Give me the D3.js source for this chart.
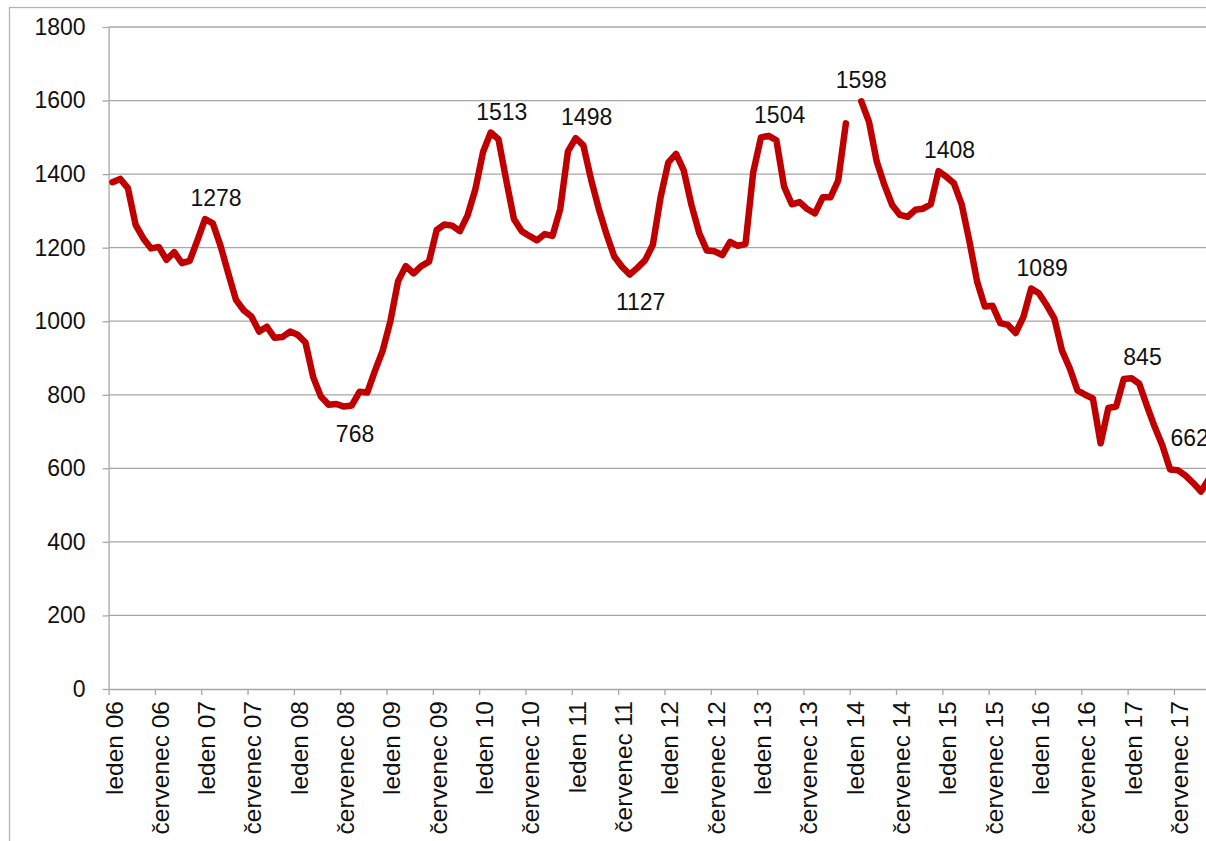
<!DOCTYPE html>
<html>
<head>
<meta charset="utf-8">
<script src="https://cdn.jsdelivr.net/npm/d3@7"></script>
<style>
    body { margin: 0; background: #fff; }
    svg { display: block; font-family: "Liberation Sans", Arial, sans-serif; }
</style>
</head>
<body>
<div id="chart"></div>
<script>
// monthly values, leden 06 .. listopad 17 (leden 14 missing)
var years = ["2006", "2007", "2008", "2009", "2010", "2011", "2012", "2013", "2014", "2015", "2016", "2017"];
var v2006 = [1378, 1387, 1362, 1262, 1225, 1198, 1202, 1167, 1188, 1158, 1164, 1220];
var v2007 = [1278, 1266, 1205, 1130, 1058, 1030, 1013, 972, 985, 955, 957, 972];
var v2008 = [963, 942, 848, 795, 773, 775, 768, 771, 808, 806, 865, 920];
var v2009 = [1000, 1109, 1150, 1130, 1150, 1162, 1248, 1263, 1260, 1245, 1288, 1358];
var v2010 = [1460, 1513, 1495, 1384, 1278, 1245, 1232, 1220, 1237, 1232, 1305, 1462];
var v2011 = [1498, 1478, 1385, 1305, 1236, 1176, 1148, 1127, 1145, 1166, 1208, 1337];
var v2012 = [1432, 1455, 1410, 1316, 1240, 1192, 1190, 1180, 1216, 1205, 1210, 1405];
var v2013 = [1500, 1504, 1492, 1366, 1318, 1324, 1305, 1293, 1337, 1337, 1382, 1538];
var v2014 = [null, 1598, 1542, 1434, 1370, 1316, 1289, 1284, 1303, 1306, 1318, 1408];
var v2015 = [1393, 1375, 1318, 1218, 1108, 1040, 1042, 995, 990, 968, 1012, 1089];
var v2016 = [1076, 1044, 1008, 920, 872, 812, 800, 790, 668, 764, 768, 843];
var v2017 = [845, 830, 770, 713, 662, 597, 595, 580, 560, 537, 570];

var tickLabels = ["leden 06", "červenec 06", "leden 07", "červenec 07", "leden 08", "červenec 08",
    "leden 09", "červenec 09", "leden 10", "červenec 10", "leden 11", "červenec 11",
    "leden 12", "červenec 12", "leden 13", "červenec 13", "leden 14", "červenec 14",
    "leden 15", "červenec 15", "leden 16", "červenec 16", "leden 17", "červenec 17"];
var yTicks = [0, 200, 400, 600, 800, 1000, 1200, 1400, 1600, 1800];

// labelled points: month key, placement
var peakLabels = [
    {m: "2007-01", pos: "above"}, {m: "2008-07", pos: "below"},
    {m: "2010-02", pos: "above"}, {m: "2011-01", pos: "above"},
    {m: "2011-08", pos: "below"}, {m: "2013-02", pos: "above"},
    {m: "2014-02", pos: "top"}, {m: "2014-12", pos: "above"},
    {m: "2015-12", pos: "above"}, {m: "2017-01", pos: "above"},
    {m: "2017-05", pos: "right"}
];

var allValues = [v2006, v2007, v2008, v2009, v2010, v2011, v2012, v2013, v2014, v2015, v2016, v2017];
var data = [];
allValues.forEach(function(arr, yi) {
    arr.forEach(function(v, mi) {
        data.push({m: years[yi] + "-" + (mi < 9 ? "0" : "") + (mi + 1), v: v});
    });
});
var byMonth = {};
data.forEach(function(d) { byMonth[d.m] = d; });

var W = 1206, H = 841,
    plotLeft = 108.6, step = 7.72,
    plotTop = 27, plotBottom = 689;

var x = d3.scaleBand()
    .domain(data.map(function(d) { return d.m; }))
    .range([plotLeft, plotLeft + step * data.length])
    .padding(0);
var xIdx = d3.scaleLinear().domain([0, data.length]).range([plotLeft, plotLeft + step * data.length]);
var y = d3.scaleLinear().domain([0, 1800]).range([plotBottom, plotTop]);

function cx(d) { return x(d.m) + x.bandwidth() / 2; }

var svg = d3.select("#chart").append("svg")
    .attr("width", W)
    .attr("height", H);

// chart area border
svg.append("rect")
    .attr("x", 9.5).attr("y", 7.5)
    .attr("width", W + 20).attr("height", H + 20)
    .attr("fill", "none")
    .attr("stroke", "#b4b4b4")
    .attr("stroke-width", 1.3);

// horizontal gridlines
svg.append("g")
    .selectAll("line")
    .data(yTicks.filter(function(v) { return v > 0; }))
    .enter().append("line")
    .attr("x1", plotLeft).attr("x2", W + 20)
    .attr("y1", function(d) { return y(d); })
    .attr("y2", function(d) { return y(d); })
    .attr("stroke", "#a6a6a6")
    .attr("stroke-width", 1.3);

// y axis
var gy = svg.append("g")
    .attr("transform", "translate(" + plotLeft + ",0)")
    .call(d3.axisLeft(y).tickValues(yTicks).tickFormat(d3.format("d"))
        .tickSize(6).tickSizeOuter(0).tickPadding(17));
gy.selectAll("line, path").attr("stroke", "#a6a6a6").attr("stroke-width", 1.3);
gy.selectAll("text")
    .style("font-size", "23px")
    .style("font-family", "'Liberation Sans', Arial, sans-serif")
    .attr("fill", "#111");

// x axis, ticks between categories
var gx = svg.append("g")
    .attr("transform", "translate(0," + plotBottom + ")")
    .call(d3.axisBottom(xIdx)
        .tickValues(d3.range(0, data.length, 6))
        .tickSize(6).tickSizeOuter(0)
        .tickFormat(function(d, i) { return tickLabels[i]; }));
gx.select(".domain").attr("stroke", "#a6a6a6").attr("stroke-width", 1.3);
gx.selectAll("line").attr("stroke", "#a6a6a6").attr("stroke-width", 1.3);
gx.selectAll("text")
    .attr("x", 0).attr("y", 0)
    .attr("dy", "0.35em")
    .attr("text-anchor", "end")
    .attr("transform", "translate(" + (step / 2 + 1) + ",12) rotate(-90)")
    .style("font-size", "24.5px")
    .style("font-family", "'Liberation Sans', Arial, sans-serif")
    .attr("fill", "#111");

// the series line
var line = d3.line()
    .defined(function(d) { return d.v !== null; })
    .x(cx)
    .y(function(d) { return y(d.v); });

svg.append("path")
    .datum(data)
    .attr("d", line)
    .attr("fill", "none")
    .attr("stroke", "#c00000")
    .attr("stroke-width", 6.5)
    .attr("stroke-linejoin", "round")
    .attr("stroke-linecap", "round");

// data labels
svg.append("g")
    .selectAll("text")
    .data(peakLabels)
    .enter().append("text")
    .text(function(p) { return byMonth[p.m].v; })
    .attr("x", function(p) {
        var d = byMonth[p.m];
        if (p.pos === "right") return cx(d) + 8;
        if (p.pos === "top") return cx(d);
        return cx(d) + 11;
    })
    .attr("y", function(p) {
        var d = byMonth[p.m];
        if (p.pos === "below") return y(d.v) + 27;
        if (p.pos === "right") return y(d.v) - 8;
        return y(d.v) - 21;
    })
    .attr("dy", "0.35em")
    .attr("text-anchor", function(p) { return p.pos === "right" ? "start" : "middle"; })
    .style("font-size", "23px")
    .attr("fill", "#111");
</script>
</body>
</html>
